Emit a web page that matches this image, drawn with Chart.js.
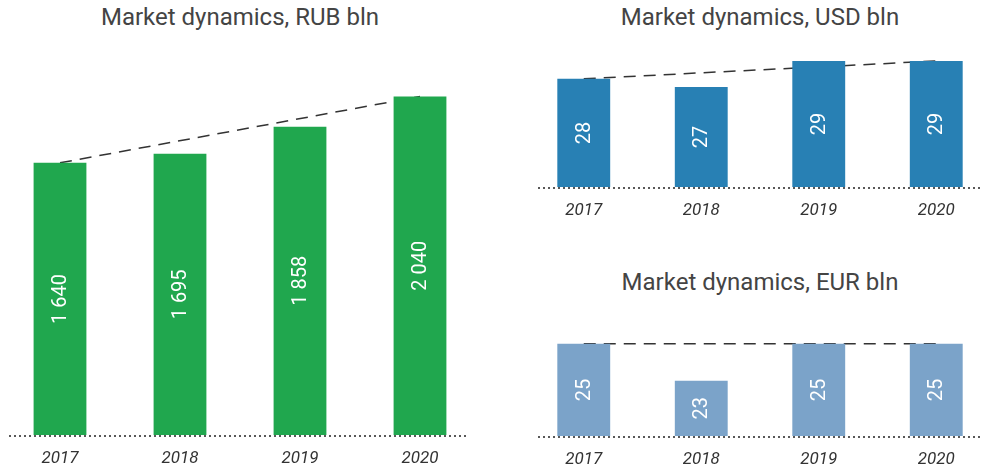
<!DOCTYPE html>
<html>
<head>
<meta charset="utf-8">
<script src="https://cdn.jsdelivr.net/npm/chart.js@4"></script>
<style>
    html, body { margin: 0; padding: 0; background: #fff; overflow: hidden; }
    body { width: 983px; height: 471px; position: relative; font-family: Roboto, sans-serif; }
    .title { position: absolute; font-size: 24px; color: #444; text-align: center; white-space: nowrap; }
    .box { position: absolute; }
</style>
</head>
<body>
<div class="title" style="left:0; width:480px; top:3px;">Market dynamics, RUB bln</div>
<div class="title" style="left:525px; width:470px; top:3px;">Market dynamics, USD bln</div>
<div class="title" style="left:525px; width:470px; top:268px;">Market dynamics, EUR bln</div>

<div class="box" style="left:0; top:50px; width:480px; height:425px;"><canvas id="rubChart"></canvas></div>
<div class="box" style="left:525px; top:50px; width:470px; height:177px;"><canvas id="usdChart"></canvas></div>
<div class="box" style="left:525px; top:307px; width:470px; height:169px;"><canvas id="eurChart"></canvas></div>

<script>
const years = ['2017', '2018', '2019', '2020'];
const rubValues = [1640, 1695, 1858, 2040];
const usdValues = [27.9, 27.3, 29.2, 29.2];
const eurValues = [25.0, 23.0, 25.0, 25.0];

// trend line only joins first and last year
function trend(values) {
    return values.map((v, i) => (i === 0 || i === values.length - 1) ? v : null);
}

function fmtRub(v) {
    return String(Math.round(v)).replace(/\B(?=(\d{3})+(?!\d))/g, ' ');
}
function fmtInt(v) {
    return String(Math.round(v));
}
const formats = { rubChart: fmtRub, usdChart: fmtInt, eurChart: fmtInt };

// white rotated numbers inside the bars
const barLabels = {
    id: 'barLabels',
    afterDatasetsDraw(chart) {
        const ctx = chart.ctx;
        const meta = chart.getDatasetMeta(0);
        const format = formats[chart.canvas.id];
        const bottom = chart.chartArea.bottom;
        ctx.save();
        ctx.fillStyle = '#fff';
        ctx.font = '20px Roboto, sans-serif';
        ctx.textAlign = 'center';
        ctx.textBaseline = 'middle';
        meta.data.forEach((bar, i) => {
            const v = chart.data.datasets[0].data[i];
            ctx.save();
            ctx.translate(bar.x, (bar.y + Math.min(bar.base, bottom)) / 2);
            ctx.rotate(-Math.PI / 2);
            ctx.fillText(format(v), 0, 1);
            ctx.restore();
        });
        ctx.restore();
    }
};

// dotted base line
const baseLine = {
    id: 'baseLine',
    beforeDatasetsDraw(chart, args, opts) {
        const ctx = chart.ctx;
        const y = chart.chartArea.bottom + 1;
        ctx.save();
        ctx.strokeStyle = '#222';
        ctx.lineWidth = 1.5;
        ctx.setLineDash([2, 3]);
        ctx.beginPath();
        ctx.moveTo(chart.chartArea.left + opts.left, y);
        ctx.lineTo(chart.chartArea.right - opts.right, y);
        ctx.stroke();
        ctx.restore();
    }
};

function makeChart(id, values, color, yMin, yMax, barPct, inset) {
    const ctx = document.getElementById(id).getContext('2d');
    return new Chart(ctx, {
        type: 'bar',
        data: {
            labels: years,
            datasets: [{
                data: values,
                backgroundColor: color,
                barPercentage: barPct,
                categoryPercentage: 1,
                order: 1
            }, {
                type: 'line',
                data: trend(values),
                borderColor: '#333',
                borderWidth: 1.5,
                borderDash: [12, 8],
                pointRadius: 0,
                spanGaps: true,
                fill: false,
                order: 2
            }]
        },
        options: {
            responsive: true,
            maintainAspectRatio: false,
            animation: false,
            layout: { padding: 0 },
            plugins: {
                legend: { display: false },
                tooltip: { enabled: false },
                baseLine: inset
            },
            scales: {
                x: {
                    grid: { display: false, drawTicks: false },
                    border: { display: false },
                    afterFit(scale) { scale.height = 40; },
                    ticks: {
                        color: '#333',
                        padding: 14,
                        font: { family: 'Roboto', size: 17, style: 'italic' }
                    }
                },
                y: {
                    display: false,
                    min: yMin,
                    max: yMax
                }
            }
        },
        plugins: [barLabels, baseLine]
    });
}

makeChart('rubChart', rubValues, '#20a74e', 0, 2320, 0.44, { left: 9, right: 13 });
makeChart('usdChart', usdValues, '#2880b4', 20, 30, 0.45, { left: 13, right: 0 });
makeChart('eurChart', eurValues, '#7ba3c9', 20, 27, 0.45, { left: 13, right: 0 });
</script>
</body>
</html>
